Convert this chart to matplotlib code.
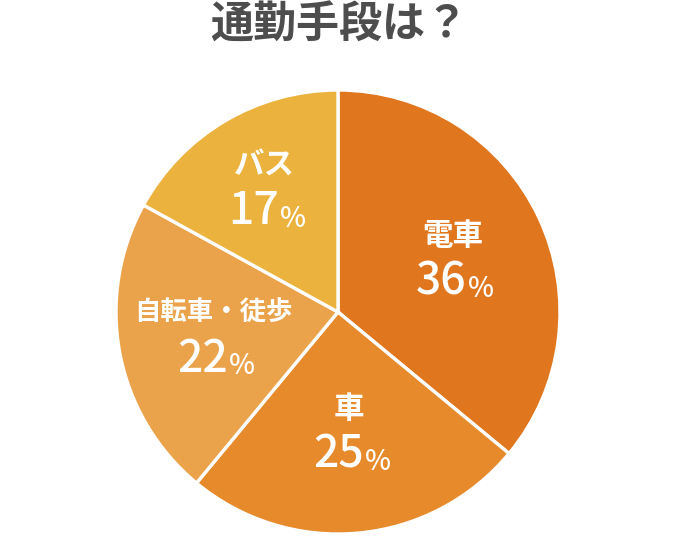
import numpy as np
import matplotlib.pyplot as plt

plt.rcParams['font.family'] = ['Noto Sans CJK JP', 'DejaVu Sans']

# data
labels = ['電車', '車', '自転車・徒歩', 'バス']
shares = [36, 25, 22, 17]
colors = ['#E0761E', '#E68A2B', '#EAA34A', '#EBB23D']
title = '通勤手段は？'

# label look
name_sizes = [22, 22, 19, 22]
label_r = [0.57, 0.54, 0.57, 0.65]

fig = plt.figure(figsize=(6.77, 5.39), dpi=100)
ax = fig.add_axes([(338 - 222) / 677, (539 - 312 - 222) / 539, 444 / 677, 444 / 539])

wedges, _ = ax.pie(shares, colors=colors, startangle=90, counterclock=False,
                   radius=1, wedgeprops=dict(edgecolor='white', linewidth=2.4))
ax.set_xlim(-1, 1)
ax.set_ylim(-1, 1)
ax.set_aspect('equal')
ax.axis('off')

for w, name, val, fs, r in zip(wedges, labels, shares, name_sizes, label_r):
    mid = np.deg2rad((w.theta1 + w.theta2) / 2)
    x, y = r * np.cos(mid), r * np.sin(mid)
    ax.annotate(name, (x, y), xytext=(0, 16), textcoords='offset points',
                ha='center', va='center', color='white', fontsize=fs, fontweight='bold')
    num = ax.annotate(str(val), (x, y), xytext=(-8, -17), textcoords='offset points',
                      ha='center', va='center', color='white', fontsize=32,
                      fontweight='medium')
    ax.annotate('%', xy=(1, 0), xycoords=num, xytext=(1, 1), textcoords='offset points',
                ha='left', va='bottom', color='white', fontsize=20, fontweight='medium')

fig.text(339 / 677, 1 - 25 / 539, title, ha='center', va='center',
         fontsize=31, fontweight='bold', color='#4D4D4D')

fig.savefig('out.png', dpi=100)
